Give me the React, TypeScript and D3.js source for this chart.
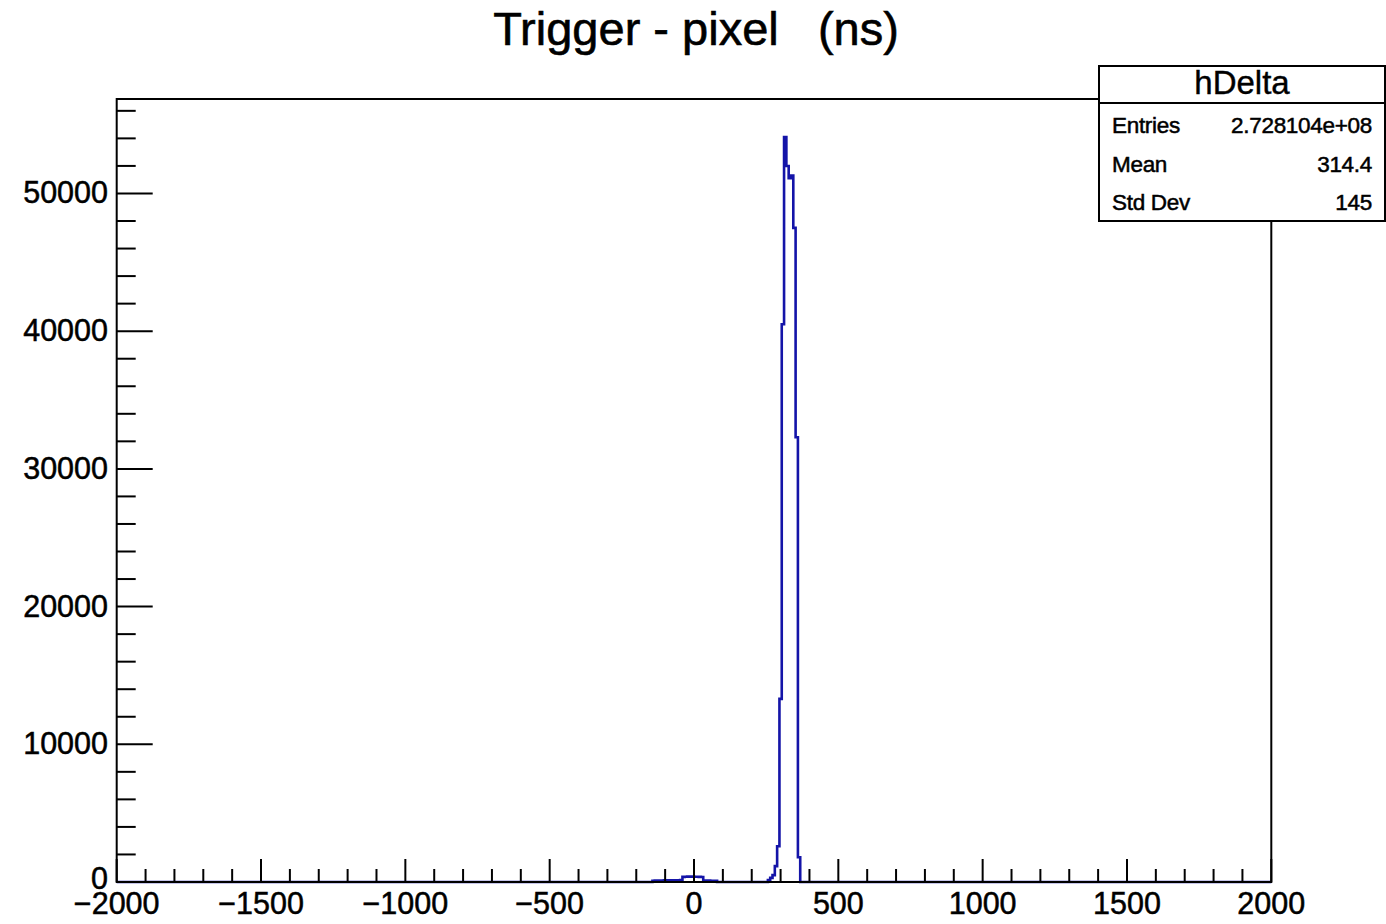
import React from "react";
import * as d3 from "d3";

// ---------- data ----------
const title = "Trigger - pixel   (ns)";
const histName = "hDelta";
const statLabels = ["Entries", "Mean", "Std Dev"];
const statValues = ["2.728104e+08", "314.4", "145"];

const xDomain = [-2000, 2000];
const yMax = 56860;
const binWidth = 8;

const xMajorTicks = [-2000, -1500, -1000, -500, 0, 500, 1000, 1500, 2000];
const yMajorTicks = [0, 10000, 20000, 30000, 40000, 50000];

// left edges of non-empty bins (ns) and their contents
const binStarts = [
  -144, -136, -128, -120, -112, -104, -96, -88, -80, -72, -64, -56, -48,
  -40, -32, -24, -16, -8, 0, 8, 16, 24,
  32, 40, 48, 56, 64, 72,
  256, 264, 272, 280, 288, 296, 304, 312, 320, 328, 336, 344, 352, 360,
];
const binCounts = [
  90, 100, 105, 110, 110, 115, 120, 120, 125, 125, 130, 130, 135,
  370, 385, 390, 395, 390, 385, 380, 375, 365,
  110, 105, 100, 95, 90, 85,
  150, 300, 500, 1150, 2600, 13300, 40500, 54100, 52000, 51100, 51300, 47500, 32300, 1800,
];

// ---------- layout ----------
const W = 1386;
const H = 924;
const L = 116.7;
const R = 1271.3;
const T = 99;
const B = 882;
const FONT = "'Liberation Sans', Arial, Helvetica, sans-serif";

export default function App() {
  const x = d3.scaleLinear().domain(xDomain).range([L, R]);
  const y = d3.scaleLinear().domain([0, yMax]).range([B, T]);

  const xMinor = d3.range(-2000, 2001, 100).filter((v) => v % 500 !== 0);
  const yMinor = d3.range(0, yMax, 2000).filter((v) => v % 10000 !== 0);

  // histogram step path
  const p = d3.path();
  p.moveTo(x(xDomain[0]), y(0));
  let prevEnd = xDomain[0];
  binStarts.forEach((s, i) => {
    if (s > prevEnd) {
      p.lineTo(x(prevEnd), y(0));
      p.lineTo(x(s), y(0));
    }
    p.lineTo(x(s), y(binCounts[i]));
    p.lineTo(x(s + binWidth), y(binCounts[i]));
    prevEnd = s + binWidth;
  });
  p.lineTo(x(prevEnd), y(0));
  p.lineTo(x(xDomain[1]), y(0));

  const fmt = (v: number) => (v < 0 ? "\u2212" + Math.abs(v) : String(v));
  const textStyle: React.CSSProperties = { fontFamily: FONT, fill: "#000" };

  return (
    <svg
      width={W}
      height={H}
      style={{ position: "absolute", left: 0, top: 0, background: "#fff" }}
    >
      <rect x={0} y={0} width={W} height={H} fill="#fff" />
      {/* histogram */}
      <path d={p.toString()} fill="none" stroke="#1414a8" strokeWidth={2.6} />

      {/* frame */}
      <rect x={L} y={T} width={R - L} height={B - T} fill="none" stroke="#000" strokeWidth={2} />

      {/* x ticks */}
      {xMajorTicks.map((v) => (
        <line key={"xM" + v} x1={x(v)} x2={x(v)} y1={B} y2={B - 23} stroke="#000" strokeWidth={2} />
      ))}
      {xMinor.map((v) => (
        <line key={"xm" + v} x1={x(v)} x2={x(v)} y1={B} y2={B - 13} stroke="#000" strokeWidth={2} />
      ))}
      {/* y ticks */}
      {yMajorTicks.map((v) => (
        <line key={"yM" + v} x1={L} x2={L + 36} y1={y(v)} y2={y(v)} stroke="#000" strokeWidth={2} />
      ))}
      {yMinor.map((v) => (
        <line key={"ym" + v} x1={L} x2={L + 19} y1={y(v)} y2={y(v)} stroke="#000" strokeWidth={2} />
      ))}

      {/* x labels */}
      {xMajorTicks.map((v) => (
        <text
          key={"xl" + v}
          x={x(v)}
          y={914}
          textAnchor="middle"
          fontSize={30.5}
          style={textStyle}
          stroke="#000"
          strokeWidth={0.5}
        >
          {fmt(v)}
        </text>
      ))}
      {/* y labels */}
      {yMajorTicks.map((v) => (
        <text
          key={"yl" + v}
          x={108}
          y={y(v) + (v === 0 ? 7 : 10)}
          textAnchor="end"
          fontSize={30.5}
          style={textStyle}
          stroke="#000"
          strokeWidth={0.5}
        >
          {v}
        </text>
      ))}

      {/* title */}
      <text
        x={696}
        y={45}
        textAnchor="middle"
        fontSize={47}
        style={{ ...textStyle, whiteSpace: "pre" }}
        stroke="#000"
        strokeWidth={0.6}
      >
        {title}
      </text>

      {/* stats box */}
      <rect x={1099} y={66} width={286} height={155} fill="#fff" stroke="#000" strokeWidth={2} />
      <line x1={1099} x2={1385} y1={103} y2={103} stroke="#000" strokeWidth={2} />
      <text x={1242} y={94} textAnchor="middle" fontSize={33} style={textStyle} stroke="#000" strokeWidth={0.4}>
        {histName}
      </text>
      {statLabels.map((s, i) => (
        <text
          key={"sl" + s}
          x={1112}
          y={133 + i * 38.5}
          fontSize={22.5}
          style={{ ...textStyle, letterSpacing: "-0.3px" }}
          stroke="#000"
          strokeWidth={0.5}
        >
          {s}
        </text>
      ))}
      {statValues.map((s, i) => (
        <text
          key={"sv" + s}
          x={1372}
          y={133 + i * 38.5}
          textAnchor="end"
          fontSize={22.5}
          style={{ ...textStyle, letterSpacing: "-0.3px" }}
          stroke="#000"
          strokeWidth={0.5}
        >
          {s}
        </text>
      ))}
    </svg>
  );
}
